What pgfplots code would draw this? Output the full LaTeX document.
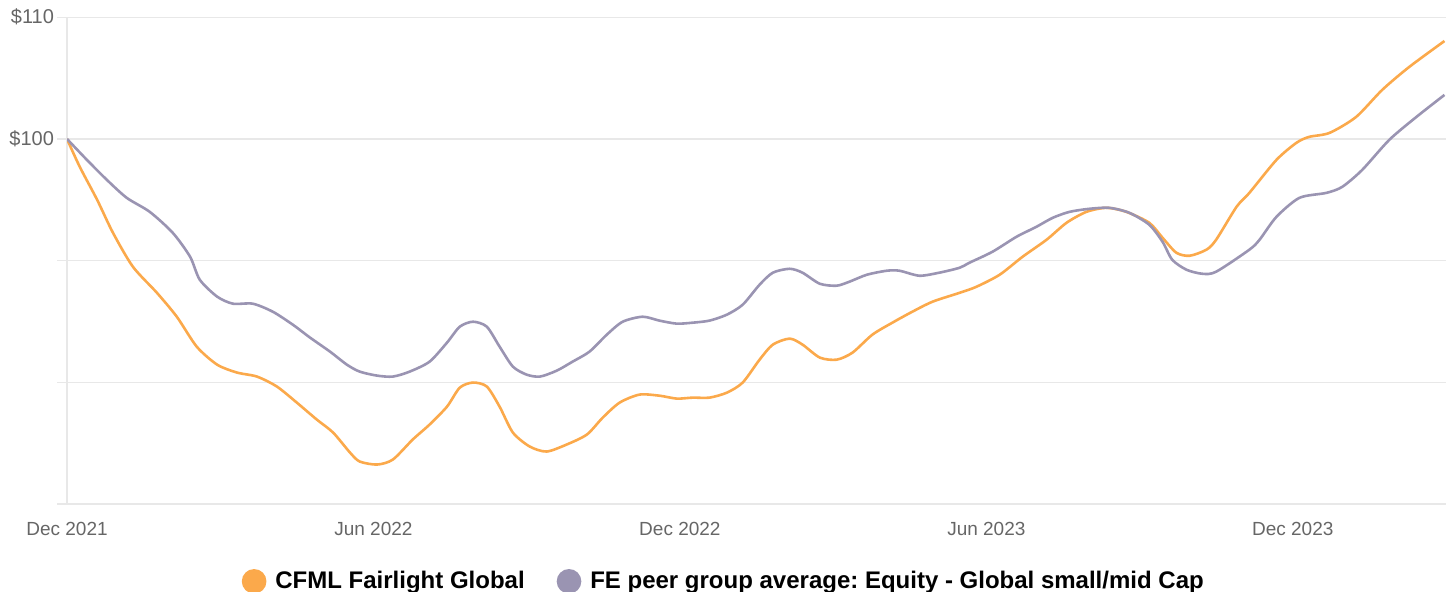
\documentclass[border=0pt]{standalone}
\usepackage{fontspec}
\setmainfont{Liberation Sans}
\usepackage{pgfplots}
\pgfplotsset{compat=1.18}
\definecolor{cOrange}{HTML}{FBA94B}
\definecolor{cPurple}{HTML}{9A94B2}
\definecolor{cGrid}{HTML}{E8E8E8}
\definecolor{cText}{HTML}{666666}
\frenchspacing
\begin{document}
\begin{tikzpicture}
\begin{axis}[
  scale only axis,
  width=689.5bp, height=243.35bp,
  xmin=0, xmax=27, ymin=70, ymax=110,
  axis line style={draw=cGrid, line width=0.6bp},
  axis x line*=bottom, axis y line*=left,
  xtick={0,6,12,18,24},
  xticklabels={Dec 2021,Jun 2022,Dec 2022,Jun 2023,Dec 2023},
  ytick={70,80,90,100,110},
  yticklabels={,,,\$100,\$110},
  ymajorgrids, major grid style={draw=cGrid, line width=0.6bp},
  x tick style={draw=none},
  y tick style={draw=cGrid, line width=0.6bp},
  tick align=outside, major tick length=5bp,
  tick label style={font=\fontsize{9.5bp}{11bp}\selectfont, text=cText},
  xticklabel style={yshift=-0.5bp},
  yticklabel style={xshift=2bp, font=\fontsize{10bp}{12bp}\selectfont},
  legend style={at={(rel axis cs:0.477,-0.159)}, anchor=center, draw=none, fill=none,
    font=\fontsize{12bp}{14bp}\selectfont\bfseries, legend columns=2,
    /tikz/every odd column/.append style={column sep=2.5bp},
    /tikz/every even column/.append style={column sep=14bp}},
  legend cell align=left,
  legend image code/.code={\fill[#1] (0bp,0bp) circle (5.5bp);},
  every axis plot/.append style={line width=1.3bp, smooth, tension=0.45},
]
\coordinate (bl) at (rel axis cs:0,0);
\coordinate (tr) at (rel axis cs:1,1);
\addplot[color=cOrange] coordinates {
(0,100.0)(0.25,97.71)(0.59,95.0)(0.90,92.29)(1.29,89.5)(1.76,87.36)(2.15,85.39)(2.54,82.93)(2.94,81.45)(3.33,80.8)(3.72,80.47)(4.11,79.65)(4.50,78.33)(4.89,76.94)(5.21,75.87)(5.54,74.23)(5.73,73.49)(6.07,73.24)(6.38,73.65)(6.77,75.3)(7.10,76.53)(7.44,78.0)(7.69,79.56)(7.95,79.98)(8.22,79.65)(8.47,78.0)(8.73,75.87)(9.06,74.72)(9.39,74.31)(9.78,74.88)(10.18,75.71)(10.49,77.1)(10.82,78.33)(11.21,78.99)(11.60,78.9)(11.94,78.66)(12.25,78.74)(12.58,78.74)(12.92,79.15)(13.23,79.98)(13.56,81.86)(13.82,83.1)(14.15,83.59)(14.40,83.1)(14.74,82.03)(15.07,81.86)(15.38,82.44)(15.77,83.92)(16.16,84.9)(16.55,85.8)(16.95,86.63)(17.48,87.36)(17.81,87.86)(18.26,88.84)(18.71,90.32)(19.18,91.72)(19.57,93.11)(19.96,94.01)(20.35,94.34)(20.74,94.01)(21.19,93.11)(21.45,91.88)(21.72,90.65)(21.98,90.4)(22.31,90.9)(22.50,91.72)(22.90,94.43)(23.15,95.57)(23.68,98.28)(24.07,99.68)(24.32,100.17)(24.72,100.5)(25.24,101.81)(25.75,104.03)(26.28,105.92)(26.97,108.05)
};
\addlegendentry{CFML Fairlight Global}
\addplot[color=cPurple] coordinates {
(0,100.0)(0.39,98.28)(0.78,96.64)(1.17,95.16)(1.62,94.01)(2.07,92.29)(2.41,90.32)(2.60,88.43)(2.94,87.04)(3.25,86.46)(3.64,86.46)(4.03,85.8)(4.42,84.74)(4.76,83.67)(5.15,82.52)(5.48,81.45)(5.73,80.88)(6.07,80.55)(6.38,80.47)(6.71,80.88)(7.10,81.7)(7.44,83.26)(7.69,84.57)(7.95,84.98)(8.22,84.57)(8.47,82.93)(8.73,81.29)(9.00,80.63)(9.26,80.47)(9.59,80.96)(9.90,81.7)(10.23,82.52)(10.57,83.92)(10.88,84.98)(11.27,85.39)(11.60,85.07)(11.94,84.82)(12.25,84.9)(12.58,85.07)(12.92,85.56)(13.23,86.38)(13.56,88.02)(13.82,89.01)(14.15,89.33)(14.40,89.01)(14.74,88.1)(15.07,87.94)(15.32,88.27)(15.66,88.84)(16.05,89.17)(16.30,89.17)(16.69,88.76)(17.08,89.01)(17.48,89.42)(17.67,89.83)(18.12,90.73)(18.59,91.96)(18.98,92.78)(19.30,93.52)(19.63,94.01)(20.02,94.26)(20.41,94.34)(20.80,93.93)(21.19,92.95)(21.45,91.55)(21.64,90.07)(21.92,89.25)(22.23,88.92)(22.50,89.09)(23.15,90.9)(23.35,91.72)(23.68,93.6)(24.13,95.16)(24.66,95.57)(24.97,96.07)(25.36,97.46)(25.89,99.93)(26.42,101.81)(26.97,103.62)
};
\addlegendentry{FE peer group average: Equity - Global small/mid Cap}
\end{axis}
\pgfresetboundingbox
\path ([shift={(-33.5bp,-44bp)}]bl) rectangle ([shift={(3.5bp,8.65bp)}]tr);
\end{tikzpicture}
\end{document}
